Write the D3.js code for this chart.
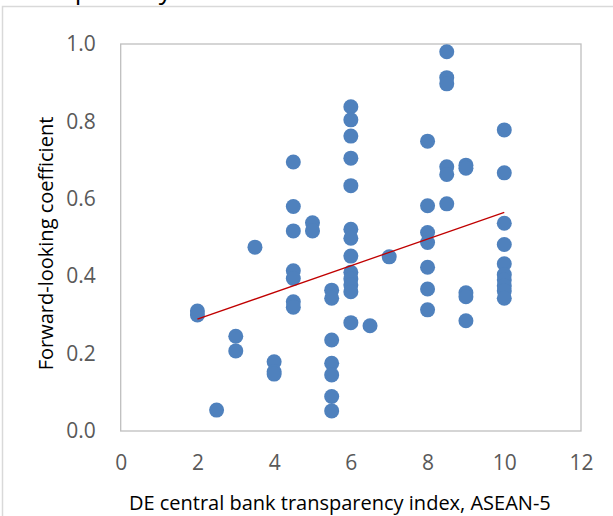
<!doctype html>
<html>
<head>
<meta charset="utf-8">
<script src="https://d3js.org/d3.v7.min.js"></script>
<style>
  body { margin: 0; background: #fff; }
  svg { display: block; font-family: "Open Sans", sans-serif; }
</style>
</head>
<body>
<svg id="svg1" width="613" height="516"></svg>
<script>
// transparency index (x) and the forward-looking coefficients read at each x
const transparency = [2, 2.5, 3, 3.5, 4, 4.5, 5, 5.5, 6, 6.5, 7, 8, 8.5, 9, 10];
const coefficients = [
  [0.31, 0.30],
  [0.054],
  [0.245, 0.207],
  [0.475],
  [0.179, 0.153, 0.147],
  [0.695, 0.58, 0.517, 0.414, 0.394, 0.334, 0.32],
  [0.538, 0.517],
  [0.364, 0.343, 0.235, 0.175, 0.145, 0.089, 0.052],
  [0.838, 0.804, 0.762, 0.705, 0.634, 0.521, 0.498, 0.452, 0.41, 0.393, 0.377, 0.36, 0.28],
  [0.272],
  [0.45],
  [0.749, 0.582, 0.513, 0.487, 0.423, 0.367, 0.313],
  [0.98, 0.913, 0.897, 0.683, 0.663, 0.587],
  [0.687, 0.679, 0.357, 0.347, 0.285],
  [0.778, 0.667, 0.537, 0.482, 0.432, 0.404, 0.39, 0.375, 0.362, 0.343]
];
// linear trend line, end points
const trendX = [2, 10];
const trendY = [0.289, 0.565];

const xTicks = [0, 2, 4, 6, 8, 10, 12];
const yTicks = [0, 0.2, 0.4, 0.6, 0.8, 1.0];

const width = 613, height = 516;
const margin = { top: 44, right: 32, bottom: 85, left: 120.7 };

const svg = d3.select("#svg1");

// outer chart frame
svg.append("rect")
  .attr("x", 2.5).attr("y", 6.5)
  .attr("width", width + 10).attr("height", height + 10)
  .attr("fill", "none").attr("stroke", "#d9d9d9").attr("stroke-width", 1.5);

// title, cut off at the top of the picture
svg.append("text")
  .attr("x", 7).attr("y", -1)
  .attr("font-size", "26px").attr("fill", "#000")
  .text("Transparency");

const xScale = d3.scaleLinear().domain([0, 12]).range([margin.left, width - margin.right]);
const yScale = d3.scaleLinear().domain([0, 1]).range([height - margin.bottom, margin.top]);

// plot area border
svg.append("rect")
  .attr("x", xScale(0)).attr("y", yScale(1))
  .attr("width", xScale(12) - xScale(0)).attr("height", yScale(0) - yScale(1))
  .attr("fill", "none").attr("stroke", "#bfbfbf").attr("stroke-width", 1.3);

// axes
const xAxis = svg.append("g")
  .attr("transform", `translate(0,${yScale(0)})`)
  .call(d3.axisBottom(xScale).tickValues(xTicks).tickSize(0).tickPadding(24).tickFormat(d3.format("d")));
const yAxis = svg.append("g")
  .attr("transform", `translate(${xScale(0)},0)`)
  .call(d3.axisLeft(yScale).tickValues(yTicks).tickSize(0).tickPadding(25).tickFormat(d3.format(".1f")));

[xAxis, yAxis].forEach(a => {
  a.select(".domain").remove();
  a.selectAll("text")
    .attr("font-family", "Open Sans, sans-serif")
    .attr("font-size", "21px")
    .attr("fill", "#595959");
});

// points
const points = [];
transparency.forEach((x, i) => coefficients[i].forEach(y => points.push({ x, y })));

svg.append("g")
  .selectAll("circle")
  .data(points)
  .join("circle")
  .attr("cx", d => xScale(d.x))
  .attr("cy", d => yScale(d.y))
  .attr("r", 7.5)
  .attr("fill", "#4f81bd");

// trend line
svg.append("line")
  .attr("x1", xScale(trendX[0])).attr("y1", yScale(trendY[0]))
  .attr("x2", xScale(trendX[1])).attr("y2", yScale(trendY[1]))
  .attr("stroke", "#c00000").attr("stroke-width", 1.3);

// axis titles
svg.append("text")
  .attr("x", (xScale(0) + xScale(12)) / 2 - 11).attr("y", 510)
  .attr("text-anchor", "middle")
  .attr("font-size", "20px").attr("fill", "#000")
  .text("DE central bank transparency index, ASEAN-5");

svg.append("text")
  .attr("transform", `translate(53,${(yScale(0) + yScale(1)) / 2 + 6}) rotate(-90)`)
  .attr("text-anchor", "middle")
  .attr("font-size", "20px").attr("fill", "#000")
  .text("Forward-looking coefficient");
</script>
</body>
</html>
